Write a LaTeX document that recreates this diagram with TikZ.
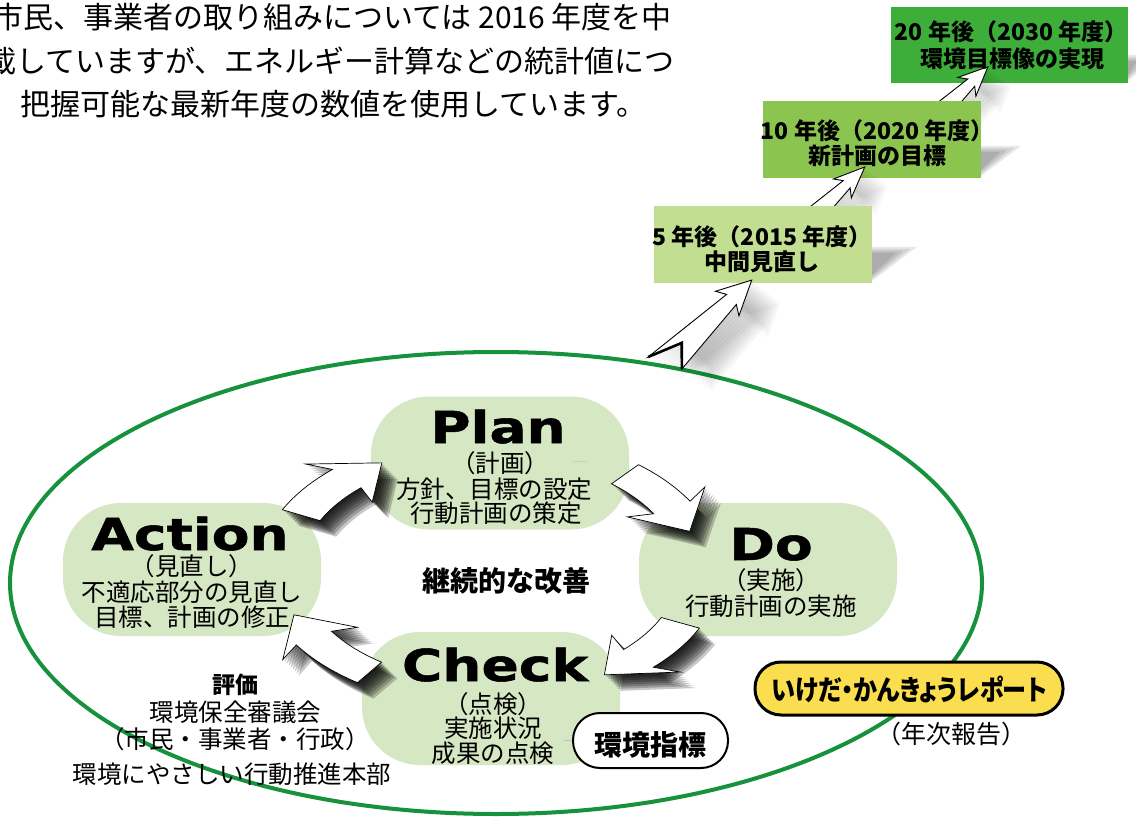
\documentclass[tikz,border=0pt]{standalone}
\usepackage{fontspec}
\setmainfont{Noto Sans CJK JP}
\newfontfamily\pdcafont{DejaVu Sans}[FakeStretch=1.25, BoldFeatures={FakeBold=1.2}]
\usetikzlibrary{calc}
\newcommand\setfs[1]{\fontsize{#1}{#1}\selectfont}
\definecolor{ellgreen}{RGB}{22,145,60}
\definecolor{stadgreen}{RGB}{214,231,196}
\definecolor{boxa}{RGB}{194,222,145}
\definecolor{boxb}{RGB}{139,197,80}
\definecolor{boxc}{RGB}{61,174,57}
\definecolor{repyellow}{RGB}{250,222,80}
\def\RX{210}
\def\RY{125}
\newcommand\pdcapath[3]{%
  \pgfmathsetmacro\hA{#2-12}%
  \pgfmathsetmacro\hB{#2-15}%
  \path[#3] plot[variable=\t,domain=#1:\hA,samples=14] ({1.1*\RX*cos(\t)},{1.1*\RY*sin(\t)})
    -- ({1.22*\RX*cos(\hB)},{1.22*\RY*sin(\hB)})
    -- ({\RX*cos(#2)},{\RY*sin(#2)})
    -- ({0.78*\RX*cos(\hB)},{0.78*\RY*sin(\hB)})
    -- plot[variable=\t,domain=\hA:#1,samples=14] ({0.9*\RX*cos(\t)},{0.9*\RY*sin(\t)})
    -- cycle;}
\newcommand\pdcaarrow[2]{%
  \foreach \k in {2,4,...,16}{%
    \begin{scope}[shift={(\k,\k)}]\pdcapath{#1}{#2}{fill=black,opacity=0.22}\end{scope}}%
  \pdcapath{#1}{#2}{fill=white,draw=black,line width=0.7}}
\newcommand\boxshadow[4]{%
  \foreach \k in {0,1,2,3}{\fill[black,opacity=0.09] (#1,#2+\k*2) -- (#1+#3-\k*7,#2+\k*2) -- (#1,#2+#4-\k*2) -- cycle;}}
\begin{document}
\begin{tikzpicture}[x=1pt,y=-1pt,
  stadium/.style={fill=stadgreen, rounded corners=58, minimum width=258, minimum height=133, inner sep=0, outer sep=0},
  title/.style={font=\pdcafont\bfseries\setfs{44}, inner sep=0, anchor=base},
  jp/.style={font=\setfs{24.5}, inner sep=0, anchor=base},
  jpbold/.style={font=\bfseries\setfs{23}, inner sep=0, anchor=base},
  topt/.style={font=\setfs{30}, inner sep=0},
  stairbox/.style={minimum width=218, minimum height=77, inner sep=0, outer sep=0},
  stairarrow/.style={fill=white, draw=black, line width=0.9, line join=miter},
  stairshadow/.style={fill=black, opacity=0.035}]
\useasboundingbox (0,0) rectangle (1136,821);
\fill[white] (0,0) rectangle (1136,821);
% top explanatory text
\node[topt, anchor=base east] (t1) at (672,29) {市民、事業者の取り組みについては 2016 年度を中};
\node[topt, anchor=base east] (t2) at (675,73) {載していますが、エネルギー計算などの統計値につ};
\node[topt, anchor=base west] (t3) at (20,116) {把握可能な最新年度の数値を使用しています。};
% big ellipse
\draw[ellgreen, line width=4] (496,583) ellipse [x radius=486, y radius=231];
% ---- stairs: box 3
\boxshadow{1128}{55}{30}{26}
\node[stairbox, fill=boxc, minimum width=237, minimum height=76] (s3) at (1009.5,45) {};
\begin{scope}[shift={(951,102)}, x={(0.723pt,0.691pt)}, y={(0.691pt,-0.723pt)}]
  \foreach \k in {1,...,9}{\begin{scope}[shift={(\k*2.6pt,-\k*2pt)}]
    \path[stairshadow] (-12,-9) -- (-12,9) -- (28,5) -- (22,13) -- (51,0) -- (22,-13) -- (28,-5) -- cycle;\end{scope}}
  \path[stairarrow] (-12,-9) -- (-12,9) -- (28,5) -- (22,13) -- (51,0) -- (22,-13) -- (28,-5) -- cycle;
\end{scope}
\node[jpbold] at (1011,41) {20 年後（2030 年度）};
\node[jpbold] at (1012,68) {環境目標像の実現};
% box 2
\boxshadow{981}{146}{40}{30}
\node[stairbox, fill=boxb] (s2) at (872,140) {};
\begin{scope}[shift={(825,205)}, x={(0.723pt,0.691pt)}, y={(0.691pt,-0.723pt)}]
  \foreach \k in {1,...,9}{\begin{scope}[shift={(\k*2.6pt,-\k*2pt)}]
    \path[stairshadow] (-12,-9) -- (-12,9) -- (30,5) -- (24,13) -- (55,0) -- (24,-13) -- (30,-5) -- cycle;\end{scope}}
  \path[stairarrow] (-12,-9) -- (-12,9) -- (30,5) -- (24,13) -- (55,0) -- (24,-13) -- (30,-5) -- cycle;
\end{scope}
\node[jpbold] at (877,140) {10 年後（2020 年度）};
\node[jpbold] at (877,165) {新計画の目標};
% box 1
\boxshadow{872}{247}{45}{34}
\node[stairbox, fill=boxa] (s1) at (763,244.5) {};
\begin{scope}[shift={(665,363)}, x={(0.723pt,0.691pt)}, y={(0.691pt,-0.723pt)}]
  \foreach \k in {1,...,11}{\begin{scope}[shift={(\k*2.6pt,-\k*2pt)}]
    \path[stairshadow] (-8,-16) -- (26,-3) -- (8,16) -- (92,7) -- (86,17) -- (120,0) -- (86,-17) -- (92,-7) -- cycle;\end{scope}}
  \path[stairarrow] (-8,-16) -- (26,-3) -- (8,16) -- (92,7) -- (86,17) -- (120,0) -- (86,-17) -- (92,-7) -- cycle;
  \draw[line width=2.6, line join=miter] (-8,-16) -- (26,-3) -- (8,16);
\end{scope}
\node[jpbold] at (762,246) {5 年後（2015 年度）};
\node[jpbold] at (762,271) {中間見直し};
% ---- PDCA stadiums
\node[stadium] (plan) at (500,463) {};
\node[stadium] (action) at (192,569.5) {};
\node[stadium] (do) at (768,569.5) {};
\node[stadium] (check) at (491,698.5) {};
\draw[gray!40, line width=1] (573,461) -- (587,461);
% ---- PDCA arrows
\begin{scope}[shift={(490,570)}]
  \pdcaarrow{206}{239}
  \pdcaarrow{310}{342}
  \pdcaarrow{25}{57}
  \pdcaarrow{125}{159}
\end{scope}
% ---- PDCA texts
\node[title] at (498,443) {Plan};
\node[jp] at (500,472) {（計画）};
\node[jp] at (494,498) {方針、目標の設定};
\node[jp] at (496,522) {行動計画の策定};
\node[title] at (190,550) {Action};
\node[jp] at (192,575) {（見直し）};
\node[jp] at (192,601) {不適応部分の見直し};
\node[jp] at (192,626) {目標、計画の修正};
\node[title] at (771,560) {Do};
\node[jp] at (771,589) {（実施）};
\node[jp] at (771,615) {行動計画の実施};
\node[title] at (495,681) {Check};
\node[jp] at (493,713) {（点検）};
\node[jp] at (493,737) {実施状況};
\node[jp] at (493,762) {成果の点検};
% centre label
\node[jpbold, font=\bfseries\setfs{28}] (kaizen) at (506,591) {継続的な改善};
% evaluation text
\node[jpbold] (hyoka) at (235,693) {評価};
\node[jp] at (235.5,721) {環境保全審議会};
\node[jp] at (235,748) {（市民・事業者・行政）};
\node[jp] at (232,783) {環境にやさしい行動推進本部};
% indicator box
\node[draw=black, line width=2, fill=white, rounded corners=27, minimum width=155, minimum height=55, inner sep=0] (idx) at (650.5,740.5) {};
\draw[gray!50, line width=1] ($(idx.west)+(-8,0)$) -- (idx.west);
\node[jpbold, font=\bfseries\setfs{28}] at (650,755) {環境指標};
% report box
\node[draw=black, line width=3, fill=repyellow, rounded corners=26, minimum width=308, minimum height=53, inner sep=0] (rep) at (909,688.5) {};
\node[jpbold, font=\bfseries\setfs{28}\addfontfeature{RawFeature=+palt, FakeStretch=0.86}] at (909,700) {いけだ・かんきょうレポート};
\node[jp, font=\setfs{25}] at (951,743) {（年次報告）};
\end{tikzpicture}
\end{document}
